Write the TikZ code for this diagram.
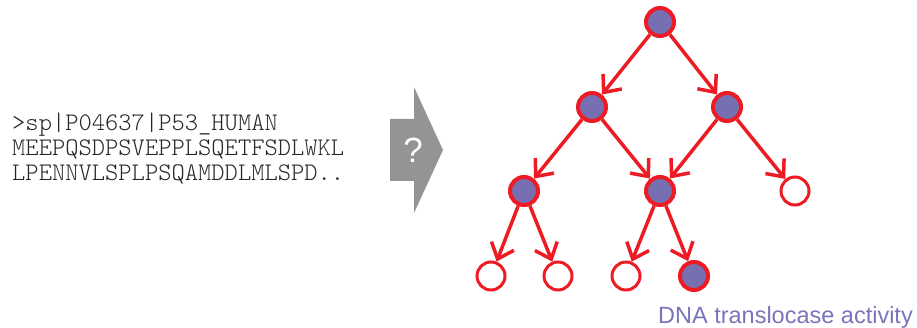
\documentclass[tikz,border=0pt]{standalone}
\usepackage{fontspec}
\setmainfont{Liberation Sans}
\setmonofont{lmmonolt10-regular.otf}
\usepackage{tikz}
\usetikzlibrary{arrows.meta}
\definecolor{goRed}{HTML}{ED1C24}
\definecolor{goPurple}{HTML}{7670B3}
\definecolor{goText}{HTML}{7A75B8}
\definecolor{goGray}{HTML}{949494}

\begin{document}
\begin{tikzpicture}[x = 1pt, y = -1pt, full/.style={circle, draw = goRed, fill = goPurple, line width = 4pt, minimum size = 28pt, inner sep = 0pt},empty/.style={circle, draw = goRed, fill = white, line width = 3pt, minimum size = 28pt, inner sep = 0pt},edge/.style={draw = goRed, line width = 3.5pt, -{Straight Barb[length = 14pt, width = 24pt, line width = 3.5pt]}},seq/.style={anchor = base west, inner sep = 0pt, text = black!85, font = \ttfamily\fontsize{25.3}{25}\selectfont}]
	
	\useasboundingbox (0,0) rectangle (917,328);
	
	% sequence
	\node[seq] (seqa) at (12,131) {>sp|P04637|P53\_HUMAN};
	\node[seq] (seqb) at (12,156) {MEEPQSDPSVEPPLSQETFSDLWKL};
	\node[seq] (seqc) at (12,181) {LPENNVLSPLPSQAMDDLMLSPD..};
	
	% block arrow
	\fill[goGray] (390,119) -- (414,119) -- (414,87) -- (443,150) -- (414,213) -- (414,181) -- (390,181) -- cycle;
	\node[text = white, font = \fontsize{35}{35}\selectfont] (q) at (413,150) {?};
	
	% tree
	\node[full] (root) at (660,22) {};
	\node[full] (l) at (592,107) {};
	\node[full] (r) at (727,107) {};
	\node[full] (ll) at (524,191) {};
	\node[full] (lm) at (660,191) {};
	\node[empty] (lr) at (795,191) {};
	\node[empty] (a) at (491,276) {};
	\node[empty] (b) at (558,276) {};
	\node[empty] (c) at (626,276) {};
	\node[full] (d) at (694,276) {};
	
	\draw[edge] (root) -- (l);
	\draw[edge] (root) -- (r);
	\draw[edge] (l) -- (ll);
	\draw[edge] (l) -- (lm);
	\draw[edge] (r) -- (lm);
	\draw[edge] (r) -- (lr);
	\draw[edge] (ll) -- (a);
	\draw[edge] (ll) -- (b);
	\draw[edge] (lm) -- (c);
	\draw[edge] (lm) -- (d);
	
	\node[anchor = base east, inner sep = 0pt, text = goText, font = \fontsize{23.5}{23.5}\selectfont] (term) at (913,323) {DNA translocase activity};
	\end{tikzpicture}
\end{document}
